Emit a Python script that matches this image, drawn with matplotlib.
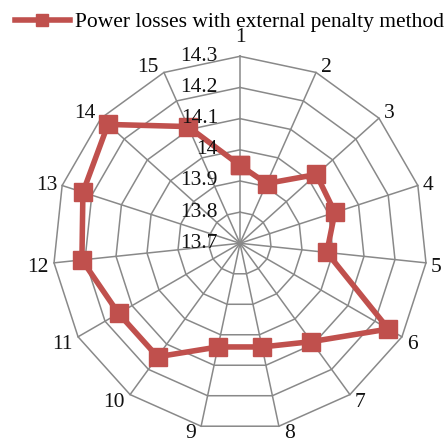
import numpy as np
import matplotlib
matplotlib.use("Agg")
import matplotlib.pyplot as plt
from matplotlib.lines import Line2D

categories = [str(i) for i in range(1, 16)]
losses = [13.95, 13.91, 14.03, 14.02, 13.98, 14.25, 14.09, 14.04,
          14.04, 14.15, 14.15, 14.21, 14.23, 14.27, 14.11]
r_ticks = [13.7, 13.8, 13.9, 14.0, 14.1, 14.2, 14.3]
r_tick_labels = ["13.7", "13.8", "13.9", "14", "14.1", "14.2", "14.3"]
series_name = "Power losses with external penalty method"

plt.rcParams["font.family"] = ["Liberation Serif", "DejaVu Serif"]
red = "#C0504D"
grid_c = "#898989"
fs = 15.5
PX = 72 / 100  # points per pixel at dpi 100

W, H = 446, 442
fig = plt.figure(figsize=(W / 100, H / 100), dpi=100)
cx, cy, R = 240, 243.3, 187
ax = fig.add_axes([(cx - R) / W, (H - cy - R) / H, 2 * R / W, 2 * R / H],
                  projection="polar")
ax.set_theta_offset(np.pi / 2)
ax.set_theta_direction(-1)
ax.set_ylim(r_ticks[0], r_ticks[-1])
ax.grid(False)
ax.spines["polar"].set_visible(False)
ax.set_xticks([])
ax.set_yticks([])
ax.patch.set_visible(False)

n = len(categories)
theta = np.arange(n) * 2 * np.pi / n
closed = np.append(theta, theta[0])

# polygonal rings and spokes
for v in r_ticks[1:]:
    ax.plot(closed, [v] * (n + 1), color=grid_c, lw=1.1, zorder=1, clip_on=False)
for t in theta:
    ax.plot([t, t], [r_ticks[0], r_ticks[-1]], color=grid_c, lw=1.1,
            zorder=1, clip_on=False)

vals = np.append(losses, losses[0])
ax.plot(closed, vals, color=red, lw=4, marker="s", markersize=12.5,
        markerfacecolor=red, markeredgecolor=red, zorder=3, clip_on=False)

# radial value labels along the first spoke
for v, lab in zip(r_ticks, r_tick_labels):
    ax.annotate(lab, xy=(0, v), xytext=(-22 * PX, 0), textcoords="offset points",
                ha="right", va="center", fontsize=fs, color="#111111",
                zorder=5, annotation_clip=False)

# category labels at the outer vertices
for t, lab in zip(theta, categories):
    ang = np.pi / 2 - t
    c, s = np.cos(ang), np.sin(ang)
    if abs(c) < 0.1:
        ha, va, dx, dy = "center", "baseline", 0, 14
    else:
        ha = "left" if c > 0 else "right"
        dx = 5 if c > 0 else -5
        if s > 0.4:
            va, dy = "baseline", 0
        elif s < -0.4:
            va, dy = "top", 2
        elif s < 0:
            va, dy = "center", -5
        else:
            va, dy = "center", 0
    ax.annotate(lab, xy=(t, r_ticks[-1]), xytext=(dx * PX, dy * PX),
                textcoords="offset points", ha=ha, va=va, fontsize=fs,
                color="#111111", annotation_clip=False)

handle = Line2D([], [], color=red, lw=4, marker="s", markersize=9,
                markerfacecolor=red, markeredgecolor=red)
fig.legend([handle], [series_name], loc="center left",
           bbox_to_anchor=(15 / W, 1 - 22 / H), frameon=False, fontsize=fs,
           borderpad=0, borderaxespad=0, handlelength=2.55, handletextpad=0.23)

fig.savefig("out.png", dpi=100)
